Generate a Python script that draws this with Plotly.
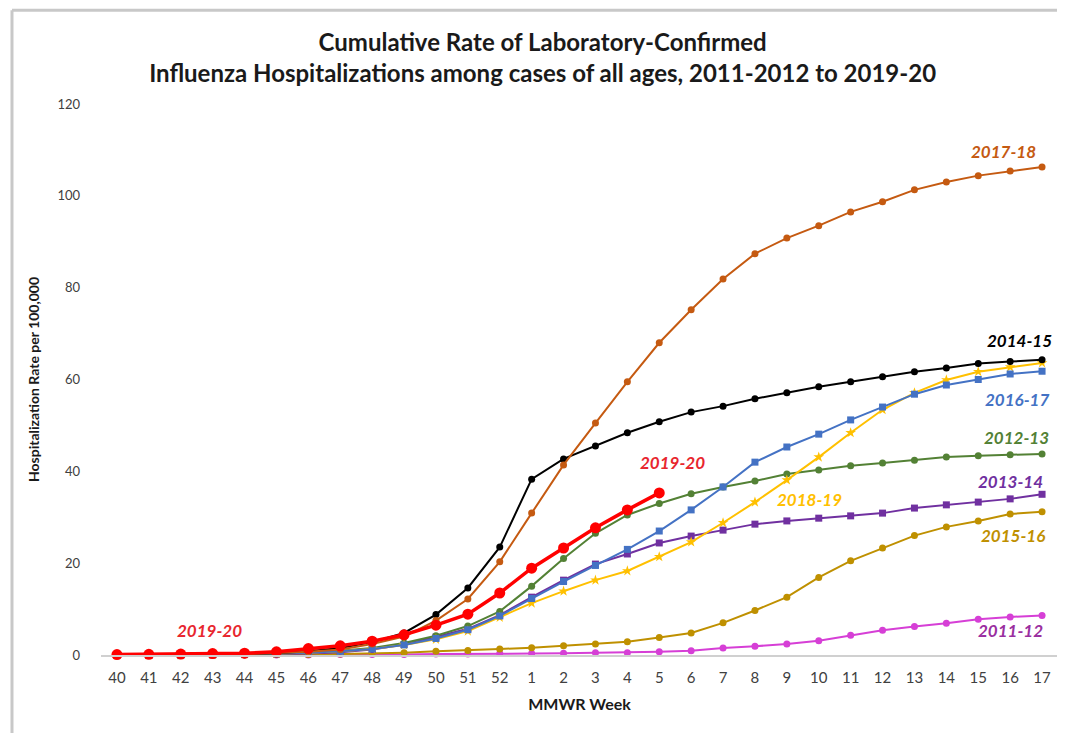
import plotly.graph_objects as go

weeks = ["40", "41", "42", "43", "44", "45", "46", "47", "48", "49", "50", "51", "52",
         "1", "2", "3", "4", "5", "6", "7", "8", "9", "10", "11", "12", "13", "14", "15", "16", "17"]

s2011_12 = [0, 0, 0, 0, 0, 0, 0, 0.1, 0.1, 0.1, 0.2, 0.2, 0.3,
            0.3, 0.4, 0.5, 0.5, 0.7, 0.9, 1.5, 1.9, 2.4, 3.1, 4.3, 5.4, 6.2, 6.9, 7.8, 8.3, 8.6]
s2012_13 = [0, 0, 0, 0.1, 0.2, 0.3, 0.5, 0.9, 1.5, 2.6, 4.2, 6.3, 9.5,
            15, 21, 26.5, 30.5, 33, 35.1, 36.6, 37.9, 39.4, 40.3, 41.2, 41.8, 42.4, 43.1, 43.4, 43.6, 43.8]
s2013_14 = [0, 0, 0, 0, 0.1, 0.2, 0.3, 0.6, 1.2, 2.3, 3.9, 5.7, 8.7,
            12.6, 16.3, 19.8, 22, 24.4, 25.9, 27.2, 28.5, 29.2, 29.8, 30.3, 30.9, 32, 32.7, 33.3, 34, 35]
s2014_15 = [0, 0, 0, 0.1, 0.2, 0.4, 0.8, 1.5, 2.8, 4.8, 8.8, 14.6, 23.5,
            38.3, 42.7, 45.5, 48.4, 50.8, 52.9, 54.2, 55.8, 57.1, 58.4, 59.5, 60.6, 61.7, 62.5, 63.5, 63.9, 64.3]
s2015_16 = [0, 0, 0, 0, 0, 0.1, 0.1, 0.2, 0.3, 0.5, 0.8, 1.0, 1.3,
            1.6, 2.0, 2.4, 2.9, 3.8, 4.8, 7, 9.7, 12.6, 16.9, 20.5, 23.3, 26, 27.9, 29.2, 30.7, 31.2]
s2016_17 = [0, 0, 0, 0.1, 0.2, 0.3, 0.5, 0.8, 1.3, 2.2, 3.6, 5.5, 8.5,
            12.3, 16, 19.5, 23, 27, 31.6, 36.6, 42, 45.3, 48.1, 51.2, 54, 56.8, 58.8, 60, 61.2, 61.8]
s2017_18 = [0, 0, 0, 0.1, 0.2, 0.4, 0.7, 1.2, 2.4, 4, 7.5, 12.2, 20.3,
            30.9, 41.4, 50.5, 59.5, 68, 75.2, 81.9, 87.4, 90.8, 93.5, 96.5, 98.7, 101.3, 103, 104.4, 105.4, 106.3]
s2018_19 = [0, 0, 0, 0.1, 0.2, 0.3, 0.5, 0.8, 1.3, 2.2, 3.4, 5.2, 8.2,
            11.3, 13.9, 16.3, 18.3, 21.4, 24.6, 28.8, 33.3, 38.1, 43.1, 48.4, 53.4, 57.1, 59.9, 61.7, 62.7, 63.6]
s2019_20 = [0.1, 0.15, 0.2, 0.3, 0.4, 0.7, 1.4, 2, 3, 4.4, 6.5, 8.9, 13.5,
            18.9, 23.3, 27.7, 31.6, 35.3]

series = [
    ("2011-12", s2011_12, "#D63FD6", "circle", 7, 2),
    ("2015-16", s2015_16, "#BF9000", "circle", 7, 2),
    ("2013-14", s2013_14, "#7030A0", "square", 7, 2),
    ("2012-13", s2012_13, "#538135", "circle", 7, 2),
    ("2018-19", s2018_19, "#FFC000", "star", 8, 2),
    ("2016-17", s2016_17, "#4472C4", "square", 7, 2),
    ("2014-15", s2014_15, "#000000", "circle", 7, 2),
    ("2017-18", s2017_18, "#C55A11", "circle", 7, 2),
    ("2019-20", s2019_20, "#FF0000", "circle", 11, 3.5),
]

fig = go.Figure()
for name, vals, color, sym, msize, lw in series:
    fig.add_trace(go.Scatter(
        x=weeks[:len(vals)], y=vals, mode="lines+markers", name=name,
        line=dict(color=color, width=lw),
        marker=dict(color=color, symbol=sym, size=msize),
        cliponaxis=False, showlegend=False,
    ))

labels = [
    ("2019-20", 2.9, 5.4, "#E8262E"),
    ("2019-20", 17.4, 42.0, "#E8262E"),
    ("2017-18", 27.8, 109.6, "#C55A11"),
    ("2014-15", 28.3, 68.6, "#000000"),
    ("2016-17", 28.2, 55.6, "#4472C4"),
    ("2012-13", 28.2, 47.3, "#538135"),
    ("2013-14", 28.0, 37.7, "#7030A0"),
    ("2018-19", 21.7, 33.8, "#FFC000"),
    ("2015-16", 28.1, 26.1, "#BF9000"),
    ("2011-12", 28.0, 5.4, "#9A2FA0"),
]
for text, x, y, color in labels:
    fig.add_annotation(x=x, y=y, xref="x", yref="y", text="<b><i>" + text + "</i></b>",
                       showarrow=False, font=dict(family="Lato", size=17, color=color))

fig.update_layout(
    width=1065, height=733,
    margin=dict(l=93, r=15, t=96, b=86),
    paper_bgcolor="white", plot_bgcolor="white",
    font=dict(family="Lato", color="#404040"),
    title=dict(
        text="<b>Cumulative Rate of Laboratory-Confirmed<br>Influenza Hospitalizations among cases of all ages, 2011-2012 to 2019-20</b>",
        x=0.502, xanchor="center", xref="container", y=0.942, yanchor="top",
        font=dict(family="Lato", size=24, color="#1a1a1a"),
    ),
    xaxis=dict(
        type="category", range=[-0.5, 29.5], showgrid=False, zeroline=False,
        showline=True, linecolor="#d0d0d0", linewidth=1.5,
        ticks="", ticklabelstandoff=8, tickfont=dict(size=15, color="#404040"),
        title=dict(text="<b>MMWR Week</b>", font=dict(size=16, color="#1a1a1a"), standoff=14),
    ),
    yaxis=dict(
        range=[0, 120], dtick=20, showgrid=False, zeroline=False, showline=False,
        ticks="", ticklabelstandoff=20, tickfont=dict(size=13, color="#404040"),
        title=dict(text="<b>Hospitalization Rate per 100,000</b>", font=dict(size=14, color="#1a1a1a"), standoff=14),
    ),
    shapes=[
        dict(type="line", xref="paper", yref="paper", x0=-0.093, x1=1.05, y0=1.17, y1=1.17,
             line=dict(color="#c8c8c8", width=3)),
        dict(type="line", xref="paper", yref="paper", x0=-0.093, x1=-0.093, y0=1.17, y1=-0.16,
             line=dict(color="#c8c8c8", width=3)),
    ],
)

fig.write_html("out.html")
